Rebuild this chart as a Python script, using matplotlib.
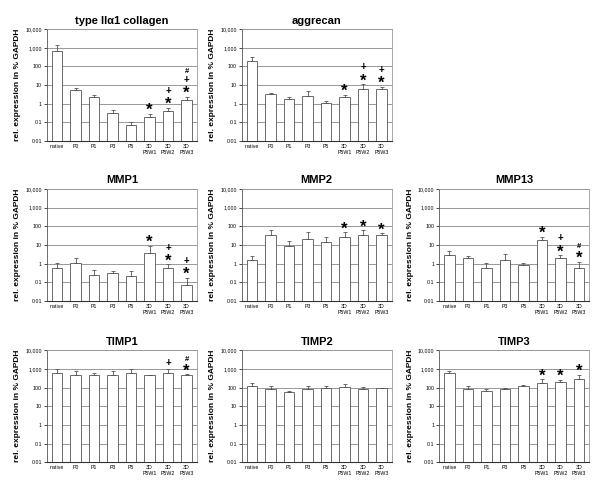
import numpy as np
import matplotlib
matplotlib.use("Agg")
import matplotlib.pyplot as plt

plt.rcParams["font.family"] = ["Liberation Sans", "DejaVu Sans"]

groups = ["native", "P0", "P1", "P3", "P5", "3D\nP5W1", "3D\nP5W2", "3D\nP5W3"]

# mean values and upper error bar ends (rel. expression in % GAPDH)
col2_mean = [700, 5.5, 2.2, 0.32, 0.07, 0.19, 0.4, 1.6]
col2_top = [1400, 7, 2.9, 0.45, 0.1, 0.28, 0.6, 2.3]
col2_sig = ["", "", "", "", "", "*", "*+", "*+#"]

agg_mean = [200, 3.2, 1.8, 2.6, 1.1, 2.2, 6, 6]
agg_top = [320, 3.8, 2.3, 4.8, 1.4, 3.0, 11, 8]
agg_sig = ["", "", "", "", "", "*", "*+", "*+"]

mmp1_mean = [0.6, 1.1, 0.25, 0.33, 0.22, 3.5, 0.55, 0.07]
mmp1_top = [1.1, 1.9, 0.48, 0.42, 0.38, 9, 0.9, 0.17]
mmp1_sig = ["", "", "", "", "", "*", "*+", "*+"]

mmp2_mean = [1.6, 33, 9, 20, 14, 28, 33, 33]
mmp2_top = [2.7, 65, 16, 48, 26, 48, 62, 42]
mmp2_sig = ["", "", "", "", "", "*", "*", "*"]

mmp13_mean = [3, 2.1, 0.55, 1.6, 0.8, 18, 1.9, 0.6]
mmp13_top = [5, 2.6, 1.1, 3.2, 1.1, 28, 2.8, 1.2]
mmp13_sig = ["", "", "", "", "", "*", "*+", "*#"]

timp1_mean = [650, 500, 450, 500, 650, 450, 650, 450]
timp1_top = [1000, 750, 650, 750, 950, 460, 950, 520]
timp1_sig = ["", "", "", "", "", "", "+", "*#"]

timp2_mean = [120, 80, 60, 85, 95, 110, 90, 95]
timp2_top = [180, 120, 65, 125, 120, 160, 105, 100]
timp2_sig = [""] * 8

timp3_mean = [600, 85, 70, 90, 120, 180, 200, 280]
timp3_top = [750, 120, 90, 100, 135, 280, 270, 480]
timp3_sig = ["", "", "", "", "", "*", "*", "*"]

panels = [
    ("type II\u03b11 collagen", col2_mean, col2_top, col2_sig, 0, 0),
    ("aggrecan", agg_mean, agg_top, agg_sig, 0, 1),
    ("MMP1", mmp1_mean, mmp1_top, mmp1_sig, 1, 0),
    ("MMP2", mmp2_mean, mmp2_top, mmp2_sig, 1, 1),
    ("MMP13", mmp13_mean, mmp13_top, mmp13_sig, 1, 2),
    ("TIMP1", timp1_mean, timp1_top, timp1_sig, 2, 0),
    ("TIMP2", timp2_mean, timp2_top, timp2_sig, 2, 1),
    ("TIMP3", timp3_mean, timp3_top, timp3_sig, 2, 2),
]

fig = plt.figure(figsize=(6, 4.86), dpi=100)
lefts = [0.078, 0.403, 0.732]
bottoms = [0.71, 0.381, 0.049]

for title, mean, top, sig, r, c in panels:
    ax = fig.add_axes([lefts[c], bottoms[r], 0.25, 0.23])
    x = np.arange(len(groups))
    mean = np.array(mean, dtype=float)
    err = np.array(top, dtype=float) - mean
    ax.bar(x, mean, width=0.58, color="white", edgecolor="#555555", linewidth=0.6, zorder=3)
    ax.errorbar(x, mean, yerr=[np.zeros_like(err), err], fmt="none",
                ecolor="#555555", elinewidth=0.6, capsize=1.5, capthick=0.6, zorder=4)
    ax.set_yscale("log")
    ax.set_ylim(0.01, 10000)
    ax.set_xlim(-0.55, len(groups) - 0.45)
    ticks = [0.01, 0.1, 1, 10, 100, 1000, 10000]
    ax.set_yticks(ticks)
    ax.set_yticklabels(["0.01", "0.1", "1", "10", "100", "1,000", "10,000"])
    ax.minorticks_off()
    ax.yaxis.grid(True, color="#888888", linewidth=0.6, zorder=0)
    ax.set_xticks(x)
    ax.set_xticklabels(groups, fontsize=3.8, linespacing=1.3)
    ax.tick_params(axis="y", labelsize=3.8, length=2, width=0.5, pad=1.5)
    ax.tick_params(axis="x", length=0, pad=2)
    for s in ["top", "right"]:
        ax.spines[s].set_color("#999999")
        ax.spines[s].set_linewidth(0.6)
    ax.spines["left"].set_color("#555555")
    ax.spines["left"].set_linewidth(0.6)
    ax.spines["bottom"].set_color("#333333")
    ax.spines["bottom"].set_linewidth(0.8)
    ax.set_title(title, fontsize=8, fontweight="bold", pad=4)
    ax.set_ylabel("rel. expression in % GAPDH", fontsize=6, fontweight="bold", labelpad=3)
    for i, s in enumerate(sig):
        off = 1
        for ch in s:
            if ch == "*":
                ax.annotate("*", (x[i], top[i]), xytext=(0, off - 4),
                            textcoords="offset points", ha="center", va="bottom",
                            fontsize=12, fontweight="bold", zorder=5)
                off += 7.5
            elif ch == "+":
                ax.annotate("+", (x[i], top[i]), xytext=(0, off),
                            textcoords="offset points", ha="center", va="bottom",
                            fontsize=7, fontweight="bold", zorder=5)
                off += 7.5
            else:
                ax.annotate("#", (x[i], top[i]), xytext=(0, off),
                            textcoords="offset points", ha="center", va="bottom",
                            fontsize=5.5, fontweight="bold", zorder=5)
                off += 6

fig.savefig("out.png", dpi=100)
